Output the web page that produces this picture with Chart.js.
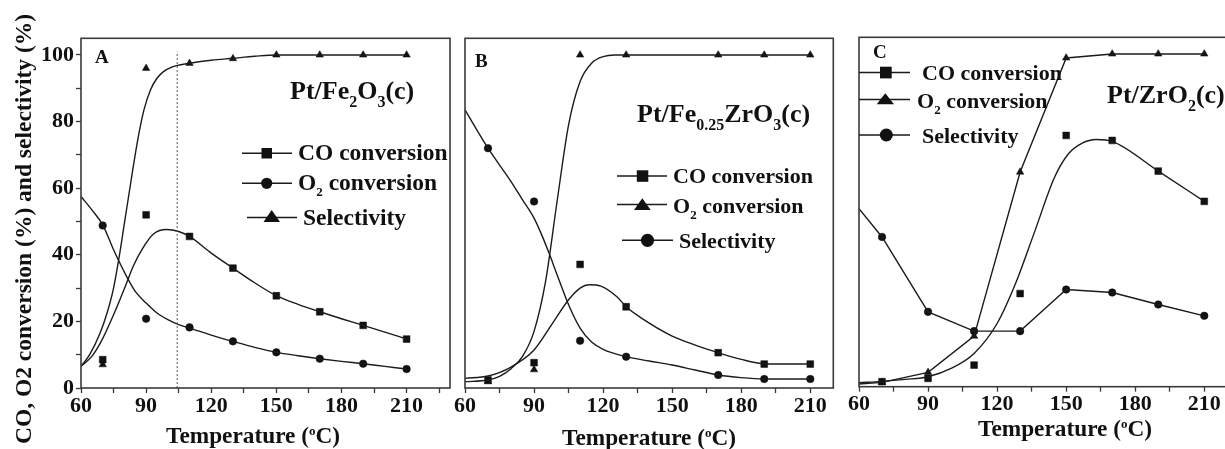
<!DOCTYPE html>
<html>
<head>
<meta charset="utf-8">
<script src="https://cdn.jsdelivr.net/npm/chart.js@4.4.1/dist/chart.umd.min.js"></script>
<style>
  html, body { margin: 0; padding: 0; background: #fff; }
  #wrap { position: relative; width: 1225px; height: 449px; overflow: hidden; background: #fff; }
  canvas { position: absolute; left: 0; top: 0; }
  .t { position: absolute; font-family: 'Liberation Serif', 'Times New Roman', serif; font-weight: bold;
       line-height: 1; white-space: nowrap; color: #111; }
  .lg { font-size: 22px; }
  .lgA { font-size: 23.5px; }
  .ttl { font-size: 26px; }
  .let { font-size: 19px; }
  .ax { font-size: 23.3px; }
  .sub { font-size: 13px; position: relative; top: 6px; }
  .tsub { font-size: 16px; position: relative; top: 8px; }
  .sup { font-size: 13px; position: relative; top: -8px; }
  #ytitle { position: absolute; width: 480px; height: 24px; left: -217px; top: 217px; text-align: center;
            font-family: 'Liberation Serif', 'Times New Roman', serif; font-weight: bold; font-size: 23.5px;
            line-height: 24px; color: #111; transform: rotate(-90deg); white-space: nowrap; }
  svg#keys { position: absolute; left: 0; top: 0; }
</style>
</head>
<body>
<div id="wrap">
  <canvas id="cA" width="1240" height="449"></canvas>
  <canvas id="cB" width="1240" height="449"></canvas>
  <canvas id="cC" width="1240" height="449"></canvas>

  <div id="ytitle">CO, O2 conversion (%) and selectivity (%)</div>

  <div class="t ax" style="left:166px;top:423.5px">Temperature (<span class="sup">o</span>C)</div>
  <div class="t ax" style="left:562px;top:425.5px">Temperature (<span class="sup">o</span>C)</div>
  <div class="t ax" style="left:978px;top:417px">Temperature (<span class="sup">o</span>C)</div>

  <div class="t let" style="left:95px;top:47px">A</div>
  <div class="t let" style="left:475px;top:51px">B</div>
  <div class="t let" style="left:873px;top:42px">C</div>

  <div class="t ttl" style="left:290px;top:78px">Pt/Fe<span class="tsub">2</span>O<span class="tsub">3</span>(c)</div>
  <div class="t ttl" style="left:637px;top:101px">Pt/Fe<span class="tsub">0.25</span>ZrO<span class="tsub">3</span>(c)</div>
  <div class="t ttl" style="left:1107px;top:82px">Pt/ZrO<span class="tsub">2</span>(c)</div>

  <div class="t lgA" style="left:298px;top:141px">CO conversion</div>
  <div class="t lgA" style="left:298px;top:170.5px">O<span class="sub">2</span> conversion</div>
  <div class="t lgA" style="left:303px;top:205.5px">Selectivity</div>

  <div class="t lg" style="left:673px;top:165px">CO conversion</div>
  <div class="t lg" style="left:673px;top:195px">O<span class="sub">2</span> conversion</div>
  <div class="t lg" style="left:679px;top:230px">Selectivity</div>

  <div class="t lg" style="left:922px;top:62px">CO conversion</div>
  <div class="t lg" style="left:917px;top:90px">O<span class="sub">2</span> conversion</div>
  <div class="t lg" style="left:922px;top:125px">Selectivity</div>

  <svg id="keys" width="1225" height="449" xmlns="http://www.w3.org/2000/svg">
    <g stroke="#1b1b1b" stroke-width="1.5" fill="#111">
      <!-- panel A keys -->
      <line x1="242" y1="153.3" x2="292" y2="153.3"/>
      <rect x="261.5" y="148" width="10.5" height="10.5" stroke="none"/>
      <line x1="242" y1="183.3" x2="292" y2="183.3"/>
      <circle cx="266.7" cy="183.3" r="5.6" stroke="none"/>
      <line x1="247" y1="217.5" x2="297" y2="217.5"/>
      <polygon points="263.5,222 280,222 271.7,210" stroke="none"/>
      <!-- panel B keys -->
      <line x1="617" y1="176" x2="667" y2="176"/>
      <rect x="636.8" y="170.3" width="11.5" height="11.5" stroke="none"/>
      <line x1="617" y1="204.5" x2="667" y2="204.5"/>
      <polygon points="634,210 650.7,210 642.3,198.3" stroke="none"/>
      <line x1="622" y1="240.3" x2="673" y2="240.3"/>
      <circle cx="647.5" cy="240.3" r="6.6" stroke="none"/>
      <!-- panel C keys -->
      <line x1="859" y1="72.5" x2="910" y2="72.5"/>
      <rect x="880" y="66.7" width="11.7" height="11.7" stroke="none"/>
      <line x1="859" y1="99.5" x2="910" y2="99.5"/>
      <polygon points="876.7,104.3 894,104.3 885.3,93.3" stroke="none"/>
      <line x1="859" y1="135" x2="910" y2="135"/>
      <circle cx="886.3" cy="135" r="6.5" stroke="none"/>
    </g>
  </svg>
</div>

<script>
// Measurement temperatures (°C)
const temps  = [70, 90, 110, 130, 150, 170, 190, 210];
const tempsB = [70, 90, 110, 130, 170, 190, 210];

// Axis tick labels
const xTickLabels = [60, 90, 120, 150, 180, 210];
const yTickLabels = [0, 20, 40, 60, 80, 100];

// Panel A: Pt/Fe2O3(c) measured points
const coA  = [8.5, 52, 45.5, 36, 27.7, 22.9, 18.8, 14.7];
const o2A  = [48.8, 20.8, 18.2, 14, 10.7, 8.8, 7.3, 5.7];
const selA = [7, 96, 97.5, 98.9, 100, 100, 100, 100];

// Panel A: fitted trend curves (knots)
const coFitA_T  = [60, 65, 69, 75, 81, 84, 88, 93.5, 99.5, 105, 110, 120, 130, 140, 150, 160, 170, 180, 190, 200, 210];
const coFitA    = [6.5, 9.5, 13.6, 22, 31.5, 36.5, 41.5, 46.3, 47.6, 47, 45.5, 40.5, 36, 31.6, 27.7, 25.1, 22.9, 20.8, 18.8, 16.8, 14.7];
const o2FitA_T  = [60, 65, 70, 75, 81, 85, 90, 95, 100, 105, 110, 120, 130, 140, 150, 160, 170, 180, 190, 200, 210];
const o2FitA    = [57.5, 53.5, 49, 41.5, 33.5, 29, 25.5, 22.5, 20.5, 19, 18, 15.9, 14, 12.2, 10.7, 9.7, 8.8, 8, 7.3, 6.5, 5.7];
const selFitA_T = [60, 64, 68.8, 72, 75, 78, 80, 83, 86, 89, 92, 95, 98, 101, 104, 110, 120, 130, 140, 150, 170, 190, 210];
const selFitA   = [6.5, 10, 16.5, 22.5, 30, 41, 49.5, 62, 74, 83.5, 89.5, 93, 95, 96.1, 96.8, 97.5, 98.4, 99, 99.6, 100, 100, 100, 100];
// Panel A: dotted guide at the light-off temperature
const guideA_T  = [104.3, 104.3];
const guideA    = [0, 101];

// Panel B: Pt/Fe0.25ZrO3(c) measured points
const coB  = [2.4, 7.6, 37.1, 24.4, 10.6, 7.2, 7.2];
const o2B  = [1.9, 5.5, 100, 100, 100, 100, 100];
const selB = [72, 56, 14.2, 9.4, 3.9, 2.7, 2.7];

// Panel B: fitted trend curves (knots)
const coFitB_T  = [60, 70, 80, 90, 98, 105, 110, 114, 119, 126, 130, 136, 150, 160, 170, 180, 190, 200, 210];
const coFitB    = [2.9, 3.6, 6.3, 11.4, 19.4, 26.5, 30, 31, 30.6, 27.4, 24.4, 21.3, 15.6, 12.9, 10.6, 8.6, 7.3, 7.2, 7.2];
const o2FitB_T  = [60, 70, 75, 80, 85, 90, 95, 100, 105, 110, 115, 120, 125, 130, 210];
const o2FitB    = [1.9, 2.4, 3.5, 5.8, 9.5, 17, 32, 56, 79, 92, 97.5, 99.5, 100, 100, 100];
const selFitB_T = [60, 70, 80, 85, 90, 93, 96.5, 100, 105, 110, 115, 120, 130, 140, 150, 160, 170, 180, 190, 210];
const selFitB   = [83.5, 72, 62, 56.5, 51, 46.5, 40.5, 34, 25, 18, 13.8, 11.6, 9.4, 8.1, 6.9, 5.4, 3.9, 3.1, 2.7, 2.7];

// Panel C: Pt/ZrO2(c) measured points
const coC  = [1.5, 2.5, 6.5, 28, 75.5, 74, 64.8, 55.7];
const o2C  = [1.3, 4.3, 15.2, 64.5, 98.8, 100, 100, 100];
const selC = [45, 22.5, 16.7, 16.7, 29.2, 28.3, 24.7, 21.3];

// Panel C: connecting lines start at the axis
const lineC_T   = [60, 70, 90, 110, 130, 150, 170, 190, 210];
const o2LineC   = [0.8, 1.3, 4.3, 15.2, 64.5, 98.8, 100, 100, 100];
const selLineC  = [53.5, 45, 22.5, 16.7, 16.7, 29.2, 28.3, 24.7, 21.3];
const coFitC_T  = [60, 70, 80, 90, 100, 110, 120, 128, 136, 145, 151, 157, 163, 170, 190, 210];
const coFitC    = [1.2, 1.6, 2.2, 3, 5.5, 10, 19, 31, 46, 63, 70, 73.2, 74.3, 73.7, 64.8, 55.7];

const pts = (xs, ys) => xs.map((x, i) => ({ x, y: ys[i] }));

const INK = '#1b1b1b';
const FONT = "'Liberation Serif', 'Times New Roman', serif";

function curve(xs, ys, smooth) {
  return {
    data: pts(xs, ys), showLine: true, pointRadius: 0, borderColor: INK, borderWidth: 1.4,
    fill: false, cubicInterpolationMode: smooth ? 'monotone' : 'default', tension: 0
  };
}
function marks(xs, ys, style, r) {
  return {
    data: pts(xs, ys), showLine: false, pointStyle: style, pointRadius: r,
    pointBackgroundColor: '#111', pointBorderColor: '#111', pointBorderWidth: 0.5
  };
}

const frame = {
  id: 'frame',
  afterDraw(chart) {
    const { ctx, chartArea: a } = chart;
    ctx.save();
    ctx.strokeStyle = '#3a3a3a';
    ctx.lineWidth = 1.6;
    ctx.strokeRect(a.left, a.top, a.right - a.left, a.bottom - a.top);
    ctx.restore();
  }
};

function panel(id, o) {
  const tickFont = { family: FONT, weight: 'bold', size: 22, lineHeight: 1 };
  return new Chart(document.getElementById(id), {
    type: 'scatter',
    data: { datasets: o.datasets },
    options: {
      responsive: false, animation: false, devicePixelRatio: 1,
      layout: { padding: o.pad },
      plugins: { legend: { display: false }, tooltip: { enabled: false } },
      scales: {
        x: {
          type: 'linear', min: 60, max: o.xMax,
          border: { display: false },
          grid: { display: true, drawOnChartArea: false, drawTicks: true, tickLength: 5, tickColor: '#3a3a3a', tickWidth: 1.3 },
          ticks: { stepSize: 15, includeBounds: false, padding: 2, color: '#111', font: tickFont, maxRotation: 0, autoSkip: false,
                   callback: v => xTickLabels.includes(v) ? String(v) : '' },
          afterFit: s => { s.height = o.xHeight; }
        },
        y: {
          type: 'linear', min: 0, max: 105,
          border: { display: false },
          grid: o.yTicks
            ? { display: true, drawOnChartArea: false, drawTicks: true, tickLength: 5, tickColor: '#3a3a3a', tickWidth: 1.3 }
            : { display: false },
          ticks: o.yTicks
            ? { stepSize: 10, includeBounds: false, padding: 2, color: '#111', font: tickFont, autoSkip: false,
                callback: v => yTickLabels.includes(v) ? String(v) : '' }
            : { display: false },
          afterFit: s => { s.width = o.yWidth; }
        }
      }
    },
    plugins: [frame]
  });
}

const guide = Object.assign(curve(guideA_T, guideA, false), { borderDash: [2, 2], borderWidth: 1, borderColor: '#555' });

panel('cA', {
  pad: { left: 0, right: 790, top: 38.3, bottom: 0 }, yWidth: 81, xHeight: 61, xMax: 230, yTicks: true,
  datasets: [
    guide,
    curve(coFitA_T, coFitA, true),
    curve(o2FitA_T, o2FitA, true),
    curve(selFitA_T, selFitA, true),
    marks(temps, coA, 'rect', 4.8),
    marks(temps, o2A, 'circle', 3.8),
    marks(temps, selA, 'triangle', 4.3)
  ]
});

panel('cB', {
  pad: { left: 455, right: 406.7, top: 38.3, bottom: 0 }, yWidth: 10, xHeight: 61, xMax: 220, yTicks: false,
  datasets: [
    curve(coFitB_T, coFitB, true),
    curve(o2FitB_T, o2FitB, true),
    curve(selFitB_T, selFitB, true),
    marks(tempsB, coB, 'rect', 4.8),
    marks(tempsB, o2B, 'triangle', 4.3),
    marks(tempsB, selB, 'circle', 3.8)
  ]
});

panel('cC', {
  pad: { left: 849, right: 12.7, top: 37.3, bottom: 0 }, yWidth: 10, xHeight: 62.3, xMax: 220, yTicks: false,
  datasets: [
    curve(coFitC_T, coFitC, true),
    curve(lineC_T, o2LineC, false),
    curve(lineC_T, selLineC, false),
    marks(temps, coC, 'rect', 4.8),
    marks(temps, o2C, 'triangle', 4.3),
    marks(temps, selC, 'circle', 3.8)
  ]
});
</script>
</body>
</html>
